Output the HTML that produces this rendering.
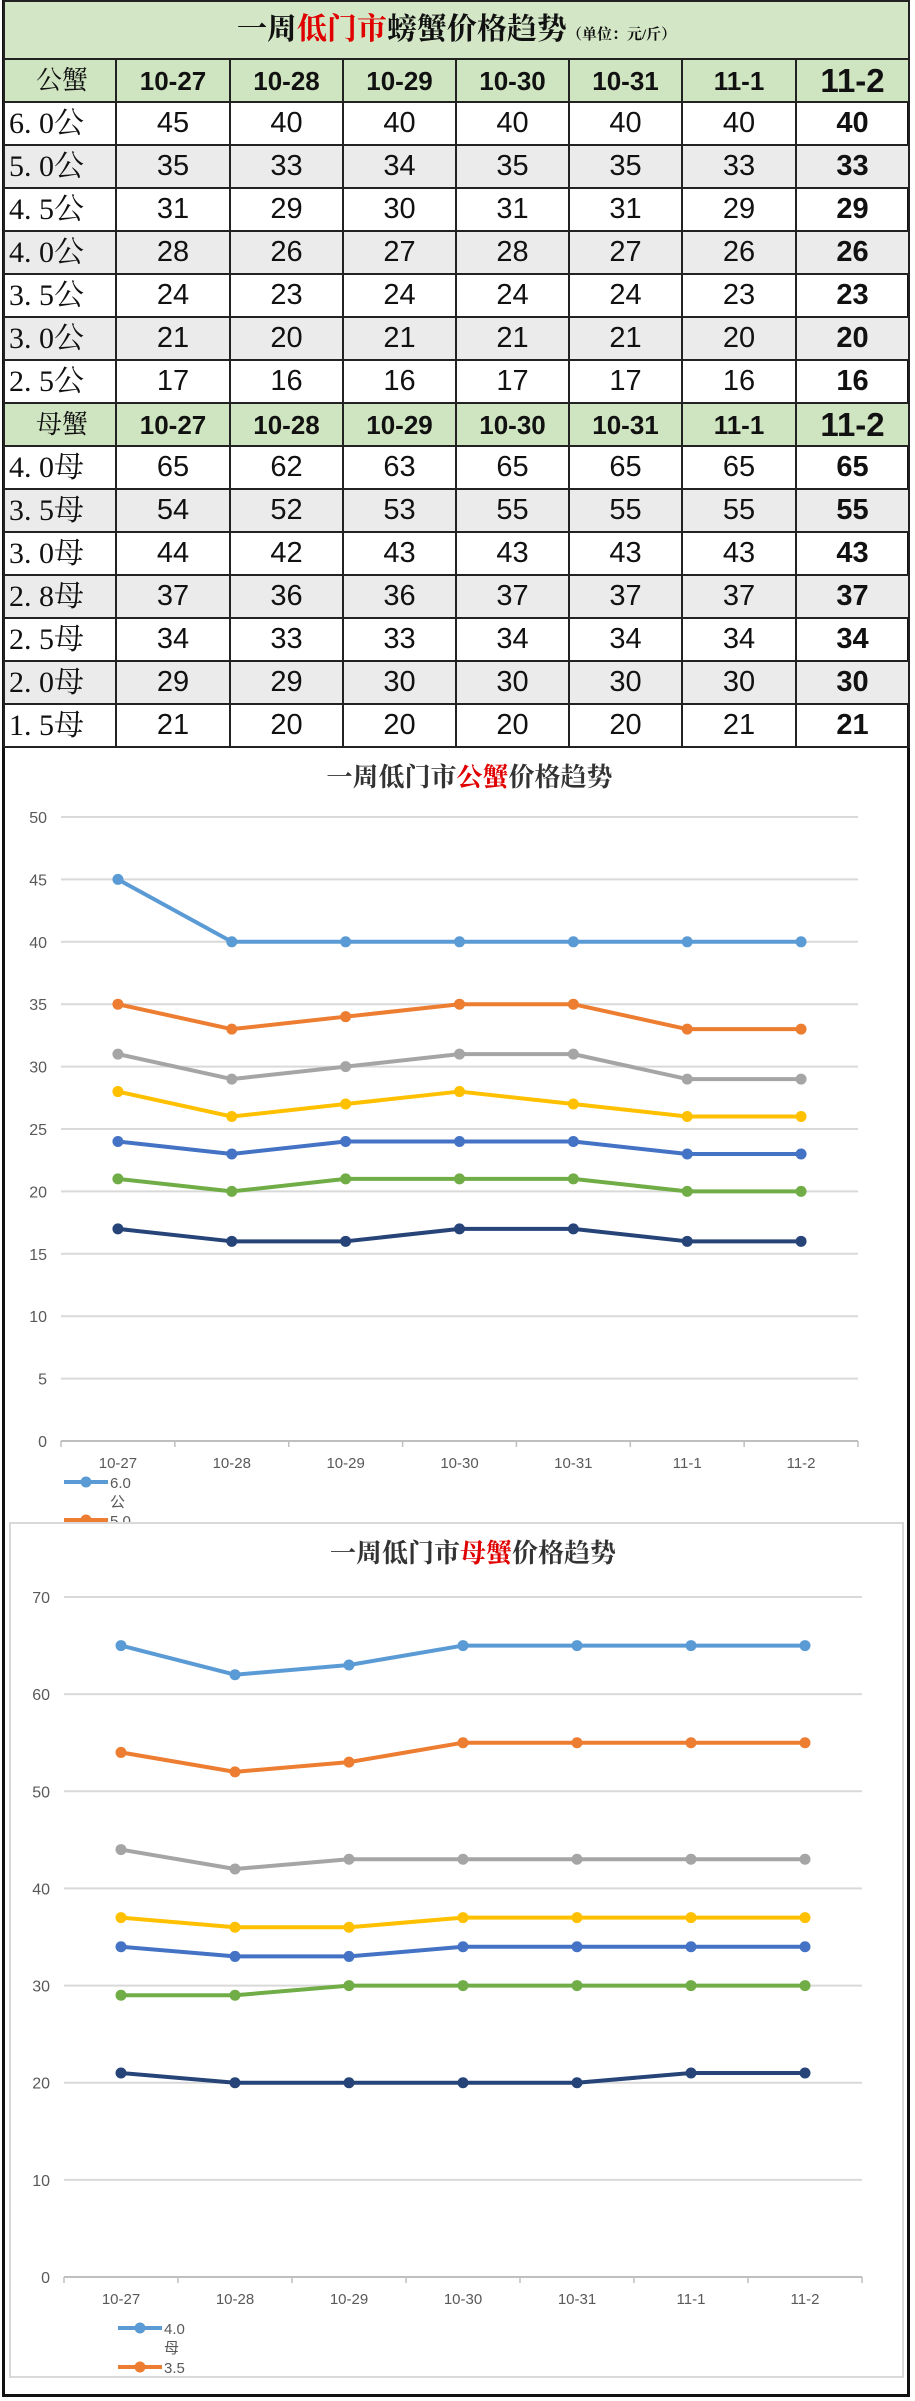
<!DOCTYPE html>
<html><head><meta charset="utf-8">
<style>
html,body{margin:0;padding:0;background:#fff;}
body{width:915px;height:2401px;position:relative;overflow:hidden;font-family:"Liberation Sans","Noto Sans CJK SC",sans-serif;}
#frame{position:absolute;left:2px;top:0;width:908px;height:2397px;border:3px solid #111;box-sizing:border-box;}
table{position:absolute;left:3px;top:0;width:905px;border-collapse:collapse;table-layout:fixed;}
td{border:2px solid #222;text-align:center;padding:0;font-size:29px;color:#111;line-height:1;overflow:hidden;box-sizing:border-box;}
td.lab{font-family:"Liberation Serif","Noto Serif CJK SC",serif;font-size:30px;text-align:left;padding-left:4px;}
tr.title td{height:58px;background:#d3e6c6;font-weight:bold;font-size:30px;font-family:"Liberation Serif","Noto Serif CJK SC",serif;}
tr.hd td{background:#cfe4c0;font-weight:bold;font-size:26px;height:43px;}
tr.r td{height:43px;}
tr.g td{background:#ebebeb;}
td.last{font-weight:bold;}
.red{color:#e00000;}
</style></head><body>
<div id="frame"></div>
<table>
<colgroup><col style="width:112px"><col style="width:114px"><col style="width:113px"><col style="width:113px"><col style="width:113px"><col style="width:113px"><col style="width:114px"><col style="width:113px"></colgroup>
<tr class="title"><td colspan="8">一周<span class="red">低门市</span>螃蟹价格趋势<span style="font-size:15px">（单位：元/斤）</span></td></tr>
<tr class="hd"><td class="lab" style="font-weight:normal;text-align:center">公蟹</td><td>10-27</td><td>10-28</td><td>10-29</td><td>10-30</td><td>10-31</td><td>11-1</td><td style="font-size:33px">11-2</td></tr>
<tr class="r"><td class="lab">6. 0公</td><td>45</td><td>40</td><td>40</td><td>40</td><td>40</td><td>40</td><td class="last">40</td></tr>
<tr class="r g"><td class="lab">5. 0公</td><td>35</td><td>33</td><td>34</td><td>35</td><td>35</td><td>33</td><td class="last">33</td></tr>
<tr class="r"><td class="lab">4. 5公</td><td>31</td><td>29</td><td>30</td><td>31</td><td>31</td><td>29</td><td class="last">29</td></tr>
<tr class="r g"><td class="lab">4. 0公</td><td>28</td><td>26</td><td>27</td><td>28</td><td>27</td><td>26</td><td class="last">26</td></tr>
<tr class="r"><td class="lab">3. 5公</td><td>24</td><td>23</td><td>24</td><td>24</td><td>24</td><td>23</td><td class="last">23</td></tr>
<tr class="r g"><td class="lab">3. 0公</td><td>21</td><td>20</td><td>21</td><td>21</td><td>21</td><td>20</td><td class="last">20</td></tr>
<tr class="r"><td class="lab">2. 5公</td><td>17</td><td>16</td><td>16</td><td>17</td><td>17</td><td>16</td><td class="last">16</td></tr>
<tr class="hd"><td class="lab" style="font-weight:normal;text-align:center">母蟹</td><td>10-27</td><td>10-28</td><td>10-29</td><td>10-30</td><td>10-31</td><td>11-1</td><td style="font-size:33px">11-2</td></tr>
<tr class="r"><td class="lab">4. 0母</td><td>65</td><td>62</td><td>63</td><td>65</td><td>65</td><td>65</td><td class="last">65</td></tr>
<tr class="r g"><td class="lab">3. 5母</td><td>54</td><td>52</td><td>53</td><td>55</td><td>55</td><td>55</td><td class="last">55</td></tr>
<tr class="r"><td class="lab">3. 0母</td><td>44</td><td>42</td><td>43</td><td>43</td><td>43</td><td>43</td><td class="last">43</td></tr>
<tr class="r g"><td class="lab">2. 8母</td><td>37</td><td>36</td><td>36</td><td>37</td><td>37</td><td>37</td><td class="last">37</td></tr>
<tr class="r"><td class="lab">2. 5母</td><td>34</td><td>33</td><td>33</td><td>34</td><td>34</td><td>34</td><td class="last">34</td></tr>
<tr class="r g"><td class="lab">2. 0母</td><td>29</td><td>29</td><td>30</td><td>30</td><td>30</td><td>30</td><td class="last">30</td></tr>
<tr class="r"><td class="lab">1. 5母</td><td>21</td><td>20</td><td>20</td><td>20</td><td>20</td><td>21</td><td class="last">21</td></tr>
</table>
<svg id="charts" width="915" height="2401" style="position:absolute;left:0;top:0"></svg>
<script>
const categories = ["10-27","10-28","10-29","10-30","10-31","11-1","11-2"];
const colors = ["#5b9bd5","#ed7d31","#a5a5a5","#ffc000","#4472c4","#70ad47","#264478"];
const maleNames = ["6.0公","5.0公","4.5公","4.0公","3.5公","3.0公","2.5公"];
const male60 = [45,40,40,40,40,40,40];
const male50 = [35,33,34,35,35,33,33];
const male45 = [31,29,30,31,31,29,29];
const male40 = [28,26,27,28,27,26,26];
const male35 = [24,23,24,24,24,23,23];
const male30 = [21,20,21,21,21,20,20];
const male25 = [17,16,16,17,17,16,16];
const maleTicks = [0,5,10,15,20,25,30,35,40,45,50];
const femaleNames = ["4.0母","3.5母","3.0母","2.8母","2.5母","2.0母","1.5母"];
const female40 = [65,62,63,65,65,65,65];
const female35 = [54,52,53,55,55,55,55];
const female30 = [44,42,43,43,43,43,43];
const female28 = [37,36,36,37,37,37,37];
const female25 = [34,33,33,34,34,34,34];
const female20 = [29,29,30,30,30,30,30];
const female15 = [21,20,20,20,20,21,21];
const femaleTicks = [0,10,20,30,40,50,60,70];

const NS="http://www.w3.org/2000/svg";
const svg=document.getElementById('charts');
function mk(tag,attrs,parent){const e=document.createElementNS(NS,tag);for(const k in attrs)e.setAttribute(k,attrs[k]);(parent||svg).appendChild(e);return e;}

function chart(cfg){
  const g=mk('g',{});
  
  
  if(cfg.box){
    const b=mk('rect',{x:cfg.box[0],y:cfg.box[1],width:cfg.box[2],height:cfg.box[3],fill:'#fff',stroke:'#d9d9d9','stroke-width':2},g);
    
    
  }
  const maxV=cfg.ticks[cfg.ticks.length-1];
  const yS=v=>cfg.y0-(cfg.y0-cfg.yTop)*v/maxV;
  const bw=(cfg.x1-cfg.x0)/categories.length;
  const xS=i=>cfg.x0+bw*(i+0.5);
  const t=mk('text',{x:(cfg.x0+cfg.x1)/2+10,y:cfg.titleY,'text-anchor':'middle','font-size':26,'font-weight':'bold',fill:'#333','font-family':'"Liberation Serif","Noto Serif CJK SC",serif'},g);
  
  
  t.innerHTML='一周低门市<tspan fill="#e00000">'+cfg.red+'</tspan>价格趋势';
  cfg.ticks.forEach(v=>{
    const l=mk('line',{x1:cfg.x0,x2:cfg.x1,y1:yS(v),y2:yS(v),stroke:v===0?'#bfbfbf':'#d9d9d9','stroke-width':2},g);
    
    
    const tx=mk('text',{x:cfg.x0-14,y:yS(v)+6,'text-anchor':'end','font-size':16,fill:'#595959'},g);
    
    
    tx.textContent=v;
  });
  for(let i=0;i<=categories.length;i++){
    const tk=mk('line',{x1:cfg.x0+bw*i,x2:cfg.x0+bw*i,y1:cfg.y0,y2:cfg.y0+6,stroke:'#bfbfbf','stroke-width':1.5},g);
    
    
  }
  categories.forEach((c,i)=>{
    const tx=mk('text',{x:xS(i),y:cfg.y0+27,'text-anchor':'middle','font-size':15,fill:'#595959'},g);
    
    
    tx.textContent=c;
  });
  cfg.series.forEach((s,k)=>{
    const pts=s.map((v,i)=>xS(i)+','+yS(v)).join(' ');
    const pl=mk('polyline',{points:pts,fill:'none',stroke:colors[k],'stroke-width':4,'stroke-linejoin':'round'},g);
    
    
    s.forEach((v,i)=>{
      const c=mk('circle',{cx:xS(i),cy:yS(v),r:5.5,fill:colors[k]},g);
      
      
    });
  });
  cfg.legend.forEach((lg,k)=>{
    const ly=lg.y;
    const l=mk('line',{x1:cfg.legX,x2:cfg.legX+44,y1:ly,y2:ly,stroke:colors[k],'stroke-width':4},g);
    
    
    const c=mk('circle',{cx:cfg.legX+22,cy:ly,r:5.5,fill:colors[k]},g);
    
    
    const tx=mk('text',{x:cfg.legX+46,y:ly+6,'font-size':15,fill:'#595959'},g);
    
    
    tx.textContent=lg.a;
    if(lg.b){const t2=mk('text',{x:cfg.legX+46,y:ly+25,'font-size':15,fill:'#595959'},g);
      
      
      t2.textContent=lg.b;}
  });
}
chart({name:'male-price-chart',red:'公蟹',titleY:786,x0:61,x1:858,y0:1441,yTop:817,ticks:maleTicks,
  series:[male60,male50,male45,male40,male35,male30,male25],
  legX:64,legend:[{y:1482,a:'6.0',b:'公'},{y:1520,a:'5.0'}]});
chart({name:'female-price-chart',red:'母蟹',titleY:1562,x0:64,x1:862,y0:2277,yTop:1597,ticks:femaleTicks,box:[10,1523,893,854],
  series:[female40,female35,female30,female28,female25,female20,female15],
  legX:118,legend:[{y:2328,a:'4.0',b:'母'},{y:2367,a:'3.5'}]});
</script>
</body></html>
